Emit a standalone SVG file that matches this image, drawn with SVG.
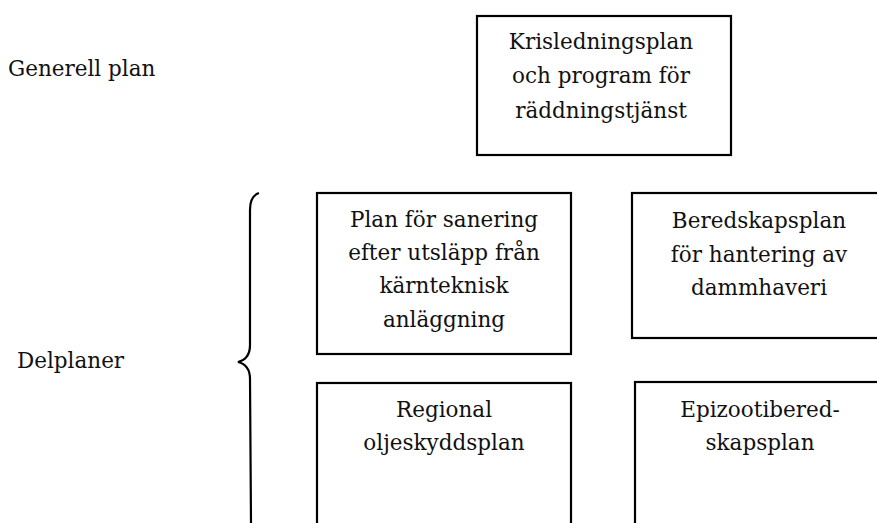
<svg xmlns="http://www.w3.org/2000/svg" width="877" height="523" viewBox="0 0 877 523">
<style>
  .box { fill: #fff; stroke: #000; stroke-width: 2.2; }
  .t { font-family: "DejaVu Serif", "Liberation Serif", serif; font-size: 21.5px; fill: #111; }
  .c { text-anchor: middle; }
  .brace { fill: none; stroke: #000; stroke-width: 2.2; }
</style>
<rect width="877" height="523" fill="#fff"/>
<g id="label-generell">
  <text class="t" x="8" y="76">Generell plan</text>
</g>
<g id="label-delplaner">
  <text class="t" x="17" y="368">Delplaner</text>
</g>
<g id="brace">
  <path class="brace" d="M259,193 C253,195 250,200 250,210 L250,345 C250,355 246,360 238,362 C246,364 250,369 250,379 L251,523"/>
</g>
<g id="node-krisledning">
  <rect class="box" x="477" y="16" width="254" height="139"/>
  <text class="t c" x="601" y="49">Krisledningsplan</text>
  <text class="t c" x="601" y="83">och program för</text>
  <text class="t c" x="601" y="118">räddningstjänst</text>
</g>
<g id="node-sanering">
  <rect class="box" x="317" y="193" width="254" height="161"/>
  <text class="t c" x="444" y="227">Plan för sanering</text>
  <text class="t c" x="444" y="260">efter utsläpp från</text>
  <text class="t c" x="444" y="293">kärnteknisk</text>
  <text class="t c" x="444" y="327">anläggning</text>
</g>
<g id="node-damm">
  <rect class="box" x="632" y="193" width="260" height="145"/>
  <text class="t c" x="759" y="228">Beredskapsplan</text>
  <text class="t c" x="759" y="262">för hantering av</text>
  <text class="t c" x="759" y="295">dammhaveri</text>
</g>
<g id="node-olje">
  <rect class="box" x="317" y="383" width="254" height="160"/>
  <text class="t c" x="444" y="417">Regional</text>
  <text class="t c" x="444" y="450">oljeskyddsplan</text>
</g>
<g id="node-epizooti">
  <rect class="box" x="635" y="382" width="260" height="160"/>
  <text class="t c" x="760" y="417">Epizootibered-</text>
  <text class="t c" x="760" y="450">skapsplan</text>
</g>
<g id="connectors"></g>
</svg>
